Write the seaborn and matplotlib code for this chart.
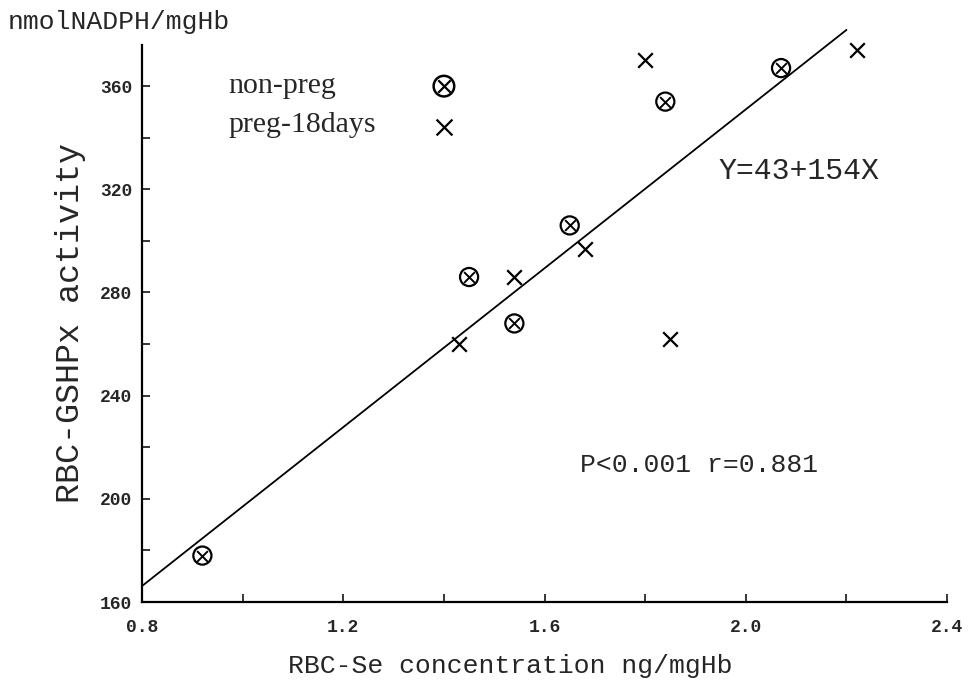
import numpy as np
import pandas as pd
import matplotlib
matplotlib.use("Agg")
import matplotlib.pyplot as plt
import seaborn as sns

# values
nonpreg_se = [0.92, 1.45, 1.54, 1.65, 1.84, 2.07]
nonpreg_gshpx = [178, 286, 268, 306, 354, 367]

preg_se = [1.43, 1.54, 1.68, 1.80, 1.85, 2.22]
preg_gshpx = [260, 286, 297, 370, 262, 374]

# regression given on the chart: Y = 43 + 154X
intercept = 43
slope = 154
line_se = [0.8, 2.2]

x_ticks = [0.8, 1.2, 1.6, 2.0, 2.4]
y_ticks = [160, 200, 240, 280, 320, 360]

MONO = "Liberation Mono"
SERIF = "Liberation Serif"

sns.set_theme(style="ticks")
plt.rcParams["font.family"] = [MONO, "DejaVu Sans Mono"]

df_np = pd.DataFrame({"se": nonpreg_se, "gshpx": nonpreg_gshpx})
df_p = pd.DataFrame({"se": preg_se, "gshpx": preg_gshpx})
df_line = pd.DataFrame({"se": line_se})
df_line["gshpx"] = intercept + slope * df_line["se"]

fig = plt.figure(figsize=(9.7, 6.87), dpi=100)
ax = fig.add_axes([0.1464, 0.1237, 0.830, 0.811])

sns.lineplot(data=df_line, x="se", y="gshpx", ax=ax, color="black",
             linewidth=1.3, clip_on=False)

# non-preg: circle with a cross inside
sns.scatterplot(data=df_np, x="se", y="gshpx", ax=ax, marker="o", s=170,
                facecolors="none", edgecolors="black", linewidths=1.6, clip_on=False)
sns.scatterplot(data=df_np, x="se", y="gshpx", ax=ax, marker="x", s=60,
                color="black", linewidths=1.4, clip_on=False)
# preg-18days: cross
sns.scatterplot(data=df_p, x="se", y="gshpx", ax=ax, marker="x", s=110,
                color="black", linewidths=1.6, clip_on=False)

ax.set_xlim(0.8, 2.4)
ax.set_ylim(160, 376)
ax.set_xticks(x_ticks)
ax.set_xticklabels([f"{v:.1f}" for v in x_ticks])
ax.set_xticks(np.arange(0.8, 2.41, 0.2), minor=True)
ax.set_yticks(y_ticks)
ax.set_yticklabels([str(v) for v in y_ticks])
ax.set_yticks(np.arange(160, 376, 20), minor=True)

ax.tick_params(axis="both", which="both", direction="in", length=6, width=1.3)
ax.tick_params(axis="x", which="major", pad=12)
ax.tick_params(axis="y", which="major", pad=7)
for lab in ax.get_xticklabels() + ax.get_yticklabels():
    lab.set_fontfamily(MONO)
    lab.set_fontweight("bold")
    lab.set_fontsize(13)

sns.despine(ax=ax)
for side in ["left", "bottom"]:
    ax.spines[side].set_linewidth(1.6)
    ax.spines[side].set_color("black")

ax.set_xlabel("RBC-Se concentration ng/mgHb", fontsize=19)
ax.xaxis.set_label_coords(0.458, -0.093)
ax.set_ylabel("RBC-GSHPx activity", fontsize=24, labelpad=10)
fig.text(8 / 970, 1 - 22 / 687, "nmolNADPH/mgHb", fontsize=19, va="center", ha="left")

# hand-made legend
ax.text(0.972, 360, "non-preg", family=SERIF, fontsize=21.5, va="center")
ax.text(0.972, 345, "preg-18days", family=SERIF, fontsize=21.5, va="center")
sns.scatterplot(x=[1.40], y=[360], ax=ax, marker="o", s=220, facecolors="none",
                edgecolors="black", linewidths=1.8)
sns.scatterplot(x=[1.40], y=[360], ax=ax, marker="x", s=80, color="black", linewidths=1.6)
sns.scatterplot(x=[1.40], y=[344], ax=ax, marker="x", s=130, color="black", linewidths=1.6)

ax.text(1.945, 327, "Y=43+154X", fontsize=21.5, va="center")
ax.text(1.67, 213, "P<0.001 r=0.881", fontsize=19, va="center")

fig.savefig("out.png", dpi=100)
